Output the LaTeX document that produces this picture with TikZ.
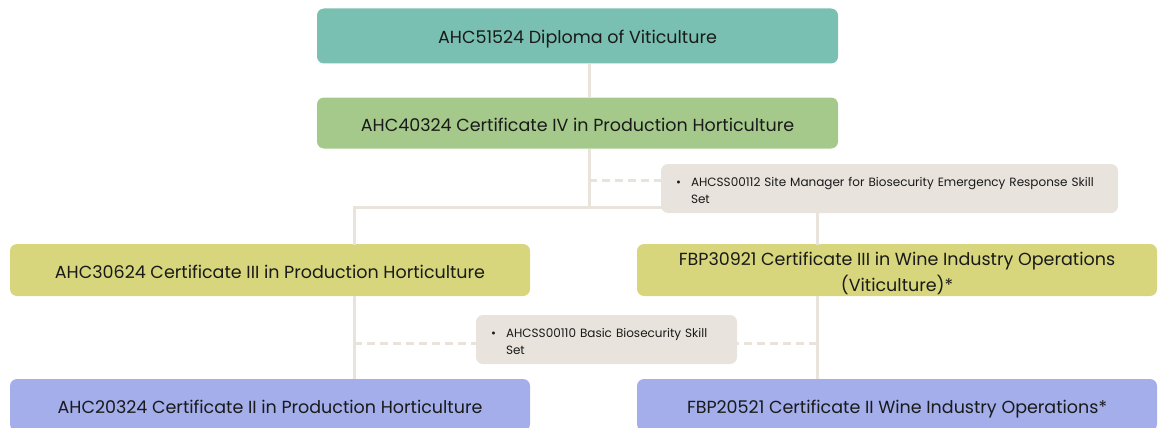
\documentclass[tikz,border=0pt]{standalone}
\usepackage{fontspec}
\setmainfont{Poppins}
\definecolor{teal1}{HTML}{79C0B2}
\definecolor{green1}{HTML}{A5C98B}
\definecolor{olive1}{HTML}{D7D67C}
\definecolor{lav1}{HTML}{A3AEEA}
\definecolor{skill1}{HTML}{E8E4DD}
\definecolor{line1}{HTML}{E8E4DC}
\definecolor{txt1}{HTML}{1A1A1A}
\tikzset{
  qbox/.style={rounded corners=7pt, inner sep=0pt, align=center, text=txt1,
    font=\fontsize{17.5}{26}\selectfont},
  oneline/.style={text height=16pt, text depth=0pt},
  skillbox/.style={rounded corners=7pt, fill=skill1, inner xsep=15pt, inner ysep=0pt,
    align=left, text=txt1, font=\fontsize{12}{17.5}\selectfont, minimum height=49pt},
  tree/.style={draw=line1, line width=3pt},
  dashtree/.style={draw=line1, line width=3pt, dash pattern=on 8pt off 5pt},
}
\begin{document}
\begin{tikzpicture}[x=1pt,y=-1pt]
\useasboundingbox (0,0) rectangle (1161,428);
% tree lines
\coordinate (jt) at (589,207);
\coordinate (jl) at (354,207);
\coordinate (jr) at (817,207);
\coordinate (dt) at (589,180);
\coordinate (dl) at (354,343);
\coordinate (dr) at (817,343);
% nodes
\node[qbox, oneline, fill=teal1, minimum width=521pt, minimum height=55pt] (d1) at (577.5,36) {AHC51524 Diploma of Viticulture};
\node[qbox, oneline, fill=green1, minimum width=521pt, minimum height=51pt] (c4) at (577.5,123) {AHC40324 Certificate IV in Production Horticulture};
\node[qbox, oneline, fill=olive1, minimum width=520pt, minimum height=52pt] (c3l) at (270,270) {AHC30624 Certificate III in Production Horticulture};
\node[qbox, fill=olive1, minimum width=520pt, minimum height=52pt] (c3r) at (897,270) {\raisebox{-3pt}[\height][\depth]{\begin{tabular}{@{}c@{}}FBP30921 Certificate III in Wine Industry Operations\\(Viticulture)*\end{tabular}}};
\node[qbox, oneline, fill=lav1, minimum width=520pt, minimum height=52pt] (c2l) at (270,405) {AHC20324 Certificate II in Production Horticulture};
\node[qbox, oneline, fill=lav1, minimum width=520pt, minimum height=52pt] (c2r) at (897,405) {FBP20521 Certificate II Wine Industry Operations*};
% connectors (drawn behind skill boxes)
\draw[tree] (d1.south -| jt) -- (c4.north -| jt);
\draw[tree] (c4.south -| jt) -- (jt);
\draw[tree, line cap=rect] (c3l.north -| jl) -- (jl) -- (jr) -- (c3r.north -| jr);
\draw[tree] (c3l.south -| jl) -- (c2l.north -| jl);
\draw[tree] (c3r.south -| jr) -- (c2r.north -| jr);
\node[skillbox, text width=427pt] (s1) at (889.5,188.5) {\raisebox{-3pt}[\height][\depth]{\begin{tabular}{@{}p{15pt}@{}l@{}}\textbullet & AHCSS00112 Site Manager for Biosecurity Emergency Response Skill\\ & Set\end{tabular}}};
\draw[dashtree] (dt) -- (dt -| s1.west);
\draw[dashtree] (dl) -- (dr);
\node[skillbox, text width=231pt] (s2) at (606.5,339.5) {\raisebox{-3pt}[\height][\depth]{\begin{tabular}{@{}p{15pt}@{}l@{}}\textbullet & AHCSS00110 Basic Biosecurity Skill\\ & Set\end{tabular}}};
\end{tikzpicture}
\end{document}
